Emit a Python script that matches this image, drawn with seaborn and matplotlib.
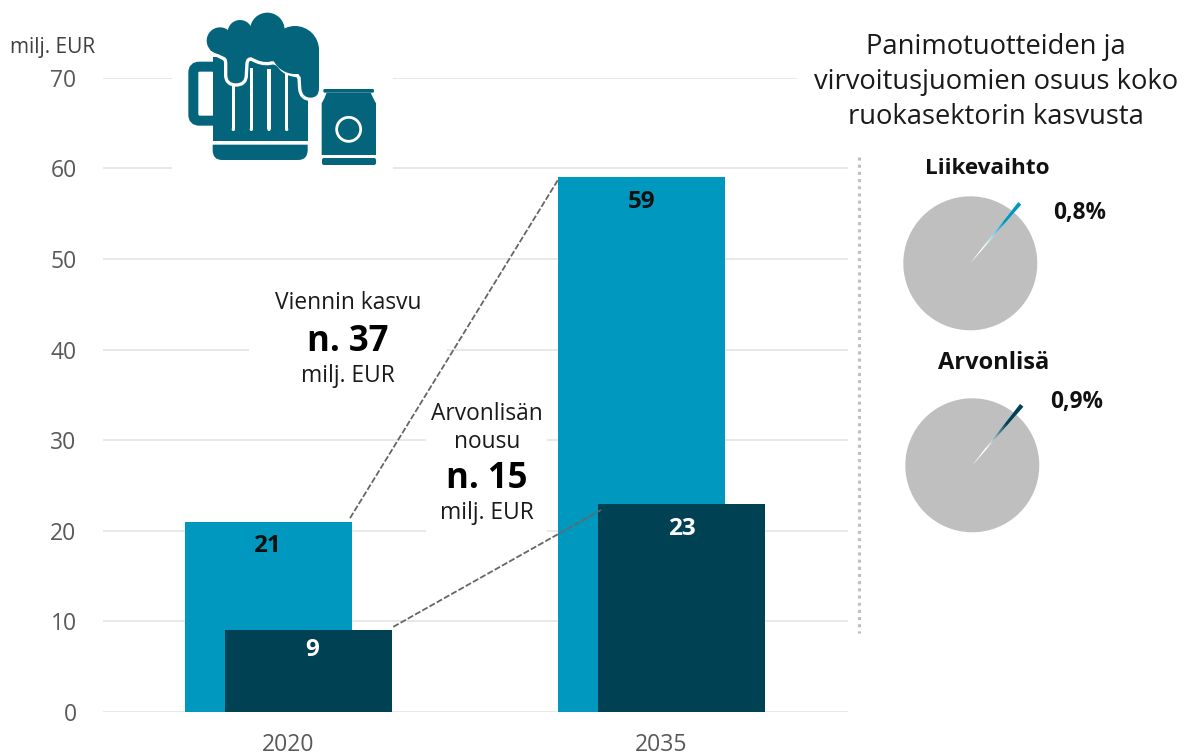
import numpy as np
import matplotlib
matplotlib.use("Agg")
import matplotlib.pyplot as plt
import seaborn as sns
from matplotlib.patches import Rectangle, Wedge, Circle, FancyBboxPatch, Polygon, PathPatch
from matplotlib.path import Path
from matplotlib.colors import LinearSegmentedColormap
from matplotlib.transforms import Affine2D

# ---- data ----
years = ["2020", "2035"]
year_pos = [0, 1]
exports = [21, 59]
value_added = [9, 23]
y_ticks = [0, 10, 20, 30, 40, 50, 60, 70]
share_revenue = [0.8, 99.2]
share_value = [0.9, 99.1]

LIGHT = "#0098BE"
DARK = "#004254"
ICON = "#04647C"
GRAY = "#BFBFBF"
TICK = "#595959"
TEXT = "#1A1A1A"

W, H = 1184, 755
sns.set_theme(style="white")
plt.rcParams["font.family"] = ["Open Sans", "DejaVu Sans"]

fig = plt.figure(figsize=(W / 100, H / 100), dpi=100, facecolor="white")
px = Affine2D().scale(1 / W, -1 / H).translate(0, 1) + fig.transFigure


def axes_px(x0, y0, x1, y1, **kw):
    return fig.add_axes([x0 / W, 1 - y1 / H, (x1 - x0) / W, (y1 - y0) / H], **kw)


# ---- main chart ----
ax = axes_px(103, 77.8, 848, 712)
bar_w = 0.448
off = 0.054
sns.barplot(x=[p - off for p in year_pos], y=exports, native_scale=True, width=bar_w,
            color=LIGHT, saturation=1, errorbar=None, ax=ax, zorder=2, linewidth=0)
sns.barplot(x=[p + off for p in year_pos], y=value_added, native_scale=True, width=bar_w,
            color=DARK, saturation=1, errorbar=None, ax=ax, zorder=2.1, linewidth=0)
ax.set_xlim(-0.4973, 1.5)
ax.set_ylim(0, 70)
ax.set_xticks(year_pos, years)
ax.set_yticks(y_ticks)
ax.set_xlabel("")
ax.set_ylabel("")
ax.tick_params(axis="y", length=0, pad=19, labelsize=16.5, labelcolor=TICK)
ax.tick_params(axis="x", length=0, pad=15, labelsize=16.5, labelcolor=TICK)
sns.despine(ax=ax, left=True, bottom=True, top=True, right=True)
ax.set_axisbelow(True)
ax.yaxis.grid(True, color="#E4E4E4", lw=1.2, zorder=0.5)
ax.xaxis.grid(False)
ax.patch.set_alpha(0)

# white boxes hiding the gridlines behind icon and callouts
for x0, y0, x1, y1 in [(172, 70, 393, 175), (797, 70, 850, 85), (249, 340, 447, 358),
                       (426, 430, 547, 540)]:
    ax.add_patch(Rectangle((x0, y0), x1 - x0, y1 - y0, transform=px, fc="white", ec="none",
                           zorder=0.8, clip_on=False))

# value labels (offsets in points below the bar top, and sideways)
for cont, vals, col, shifts in [(ax.containers[0], exports, "#111111", [(-1, -17.5), (0.5, -17.5)]),
                                (ax.containers[1], value_added, "white", [(2.5, -14), (0, -18.5)])]:
    for bar, v, (dx, dy) in zip(cont, vals, shifts):
        ax.annotate(str(v), (bar.get_x() + bar.get_width() / 2, v), xytext=(dx, dy),
                    textcoords="offset points", ha="center", va="center",
                    fontsize=17.5, fontweight="bold", color=col, zorder=4)

# connectors
dash = dict(color="#666666", lw=1.3, ls=(0, (3.4, 1.2)), zorder=3, clip_on=False)
ax.plot([0 - off + bar_w / 2 - 0.005, 1 - off - bar_w / 2], [exports[0] + 0.4, exports[1] - 0.3], **dash)
ax.plot([0 + off + bar_w / 2 + 0.003, 1 + off - bar_w / 2 + 0.008], [value_added[0] + 0.4, value_added[1] - 0.7], **dash)

# ---- overlay in pixel coordinates ----
ov = axes_px(0, 0, W, H, facecolor="none", zorder=5)
ov.set_xlim(0, W)
ov.set_ylim(H, 0)
ov.axis("off")


def label(x, y, s, size, weight="normal", color=TEXT, ha="center"):
    ov.text(x, y + 2, s, fontsize=size, fontweight=weight, color=color, ha=ha, va="center")


label(53, 46, "milj. EUR", 15, color="#404040")
label(348, 301, "Viennin kasvu", 16.4)
label(348, 340, "n. 37", 25, "bold", "#000000")
label(348, 374, "milj. EUR", 16.4)
label(487, 412, "Arvonlisän", 16.4)
label(487, 440, "nousu", 16.4)
label(487, 477, "n. 15", 25, "bold", "#000000")
label(487, 511, "milj. EUR", 16.4)
label(996, 45, "Panimotuotteiden ja", 19.7)
label(996, 80, "virvoitusjuomien osuus koko", 19.7)
label(996, 115, "ruokasektorin kasvusta", 19.7)
label(987, 166, "Liikevaihto", 16.2, "bold", "#111111")
label(994, 361, "Arvonlisä", 17, "bold", "#111111")
label(1080, 211, "0,8%", 16.3, "bold", "#111111")
label(1077, 400, "0,9%", 16.3, "bold", "#111111")

# dotted divider
ov.plot([859, 859], [157, 633], color=GRAY, lw=2.2, ls=(0, (1, 1.35)))

# ---- beer icon (decoration, drawn from zoom coordinates) ----
ic = Affine2D().scale(1 / 3).translate(170, 0) + ov.transData


def add(p):
    p.set_transform(ic)
    p.set_clip_on(False)
    ov.add_patch(p)


M, L, Q = Path.MOVETO, Path.LINETO, Path.CURVE3
# handle
add(FancyBboxPatch((70, 200), 75, 162, boxstyle="round,pad=0,rounding_size=18", fc="none", ec=ICON, lw=7.2))
# mug body
add(Polygon([(128, 172), (413, 172), (413, 422), (128, 422)], fc=ICON, ec="none", zorder=2))
# mug base
base = Path([(128, 434), (413, 434), (413, 450), (413, 480), (385, 480), (156, 480), (128, 480), (128, 450), (128, 434)],
            [M, L, L, Q, Q, L, Q, Q, L])
add(PathPatch(base, fc=ICON, ec="none", zorder=2))
# white glass lines
for x, top in [(190, 250), (244, 205), (297, 208), (350, 212)]:
    add(Rectangle((x - 5, top), 10, 388 - top, fc="white", ec="none", zorder=3))
    add(Circle((x, 388), 5, fc="white", ec="none", zorder=3))
# foam: white outline first, fill on top
foam_steps = [(M, (120, 100)), (L, (120, 150)), (L, (160, 170)),
              (Q, (172, 172)), (Q, (172, 190)), (L, (172, 225)),
              (Q, (172, 250)), (Q, (198, 250)), (Q, (224, 250)), (Q, (224, 225)),
              (L, (226, 190)), (Q, (228, 170)), (Q, (245, 172)),
              (Q, (275, 190)), (Q, (300, 185)), (Q, (320, 178)), (Q, (335, 200)),
              (Q, (350, 220)), (Q, (385, 222)), (L, (392, 232)), (L, (394, 265)),
              (Q, (396, 293)), (Q, (422, 293)), (Q, (447, 293)), (Q, (447, 265)),
              (L, (447, 150)), (L, (300, 100)), (L, (120, 100))]
foam = Path([v for _, v in foam_steps], [c for c, _ in foam_steps])
add(PathPatch(foam, fc="white", ec="white", lw=4.8, zorder=3.5, joinstyle="round"))
add(PathPatch(foam, fc=ICON, ec="none", zorder=4))
for cx, cy, r in [(150, 122, 40), (210, 97, 37), (292, 90, 52), (375, 150, 72)]:
    add(Circle((cx, cy), r, fc=ICON, ec="none", zorder=4.1))
# can
can = [(470, 278), (602, 278), (610, 295), (618, 310), (618, 465), (455, 465), (455, 310), (463, 295)]
add(Polygon(can, fc=ICON, ec="none"))
add(FancyBboxPatch((460, 267), 152, 11, boxstyle="round,pad=0,rounding_size=4", fc=ICON, ec="none"))
add(FancyBboxPatch((456, 474), 162, 21, boxstyle="round,pad=0,rounding_size=6", fc=ICON, ec="none"))
add(Circle((536, 388), 36, fc="none", ec="white", lw=2))


# ---- pies ----
def gradient_pie(cx, cy, values, color):
    r_px = 67
    lim = 1.25
    a = axes_px(cx - r_px * lim, cy - r_px * lim, cx + r_px * lim, cy + r_px * lim, zorder=4)
    start = 50.5 - values[0] * 3.6 / 2
    wedges, _ = a.pie(values, colors=["white", GRAY], startangle=start, radius=1, counterclock=True,
                      wedgeprops=dict(linewidth=0))
    a.set_xlim(-lim, lim)
    a.set_ylim(-lim, lim)
    grid = np.linspace(-lim, lim, 500)
    xx, yy = np.meshgrid(grid, grid)
    rr = np.hypot(xx, yy)
    cmap = LinearSegmentedColormap.from_list("g", ["white", color])
    shade = np.clip((rr - 0.3) / 0.5, 0, 1)
    im = a.imshow(shade, extent=(-lim, lim, -lim, lim), origin="lower", cmap=cmap, vmin=0, vmax=1,
                  interpolation="bilinear", zorder=3)
    w = Wedge((0, 0), 1.16, wedges[0].theta1, wedges[0].theta2, fc="none", ec="none", transform=a.transData)
    a.add_patch(w)
    im.set_clip_path(w)
    a.set_xlim(-lim, lim)
    a.set_ylim(-lim, lim)
    a.set_aspect("equal")
    a.axis("off")


gradient_pie(970.3, 263.3, share_revenue, "#0098BE")
gradient_pie(972.3, 465.3, share_value, "#004254")

fig.savefig("out.png", dpi=100)
